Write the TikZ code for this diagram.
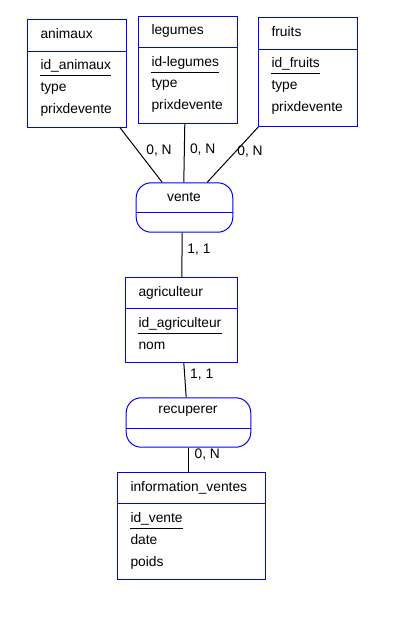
\documentclass[tikz,border=0pt]{standalone}
\usepackage{fontspec}
\setmainfont{Liberation Sans}
\begin{document}
\begin{tikzpicture}[x=1pt,y=-1pt,
  fnt/.style={font=\fontsize{13.8}{16}\selectfont},
  ent/.style={draw=blue, line width=1pt, anchor=north west, inner sep=0pt},
  rel/.style={draw=blue, line width=1pt, rounded corners=15pt, anchor=north west, inner sep=0pt},
  txt/.style={fnt, anchor=base west, inner sep=0pt},
  ctxt/.style={fnt, anchor=center, inner sep=0pt},
  card/.style={fnt, anchor=center, inner sep=0pt},
  div/.style={blue, line width=1pt},
  uline/.style={black, line width=1pt},
  link/.style={black, line width=1pt}]
\useasboundingbox (0,0) rectangle (411,621);

% ---------- animaux ----------
\node[ent, minimum width=98.7pt, minimum height=107.4pt] (animaux) at (27.3,19.3) {};
\draw[div] ([yshift=-32.4pt]animaux.north west) -- ([yshift=-32.4pt]animaux.north east);
\node[txt] (animauxT) at (40.3,38.3) {animaux};
\node[txt] (animauxA) at (40.3,69.8) {id\_animaux};
\node[txt] (animauxB) at (40.3,91.5) {type};
\node[txt] (animauxC) at (40.3,113.2) {prixdevente};
\draw[uline] ([yshift=-6pt]animauxA.base west) -- ([yshift=-6pt]animauxA.base east);

% ---------- legumes ----------
\node[ent, minimum width=99pt, minimum height=107pt] (legumes) at (138.3,15.7) {};
\draw[div] ([yshift=-31.6pt]legumes.north west) -- ([yshift=-31.6pt]legumes.north east);
\node[txt] (legumesT) at (151.3,34.7) {legumes};
\node[txt] (legumesA) at (151.3,66.2) {id-legumes};
\node[txt] (legumesB) at (151.3,87.9) {type};
\node[txt] (legumesC) at (151.3,109.6) {prixdevente};
\draw[uline] ([yshift=-6pt]legumesA.base west) -- ([yshift=-6pt]legumesA.base east);

% ---------- fruits ----------
\node[ent, minimum width=99pt, minimum height=108.7pt] (fruits) at (258.3,17.3) {};
\draw[div] ([yshift=-31.7pt]fruits.north west) -- ([yshift=-31.7pt]fruits.north east);
\node[txt] (fruitsT) at (271.3,36.3) {fruits};
\node[txt] (fruitsA) at (271.3,67.8) {id\_fruits};
\node[txt] (fruitsB) at (271.3,89.5) {type};
\node[txt] (fruitsC) at (271.3,111.2) {prixdevente};
\draw[uline] ([yshift=-6pt]fruitsA.base west) -- ([yshift=-6pt]fruitsA.base east);

% ---------- vente ----------
\node[rel, minimum width=96.6pt, minimum height=49.4pt] (vente) at (135.7,182.3) {};
\draw[div] ([yshift=-30.4pt]vente.north west) -- ([yshift=-30.4pt]vente.north east);
\node[ctxt] (venteT) at (184,196.7) {vente};

% ---------- agriculteur ----------
\node[ent, minimum width=112pt, minimum height=84.4pt] (agri) at (125.3,277.3) {};
\draw[div] ([yshift=-31pt]agri.north west) -- ([yshift=-31pt]agri.north east);
\node[txt] (agriT) at (138.3,296.3) {agriculteur};
\node[txt] (agriA) at (138.3,327.8) {id\_agriculteur};
\node[txt] (agriB) at (138.3,349.5) {nom};
\draw[uline] ([yshift=-6pt]agriA.base west) -- ([yshift=-6pt]agriA.base east);

% ---------- recuperer ----------
\node[rel, minimum width=124.6pt, minimum height=49.4pt] (recup) at (125.7,397.3) {};
\draw[div] ([yshift=-31pt]recup.north west) -- ([yshift=-31pt]recup.north east);
\node[ctxt] (recupT) at (188,411) {recuperer};

% ---------- information_ventes ----------
\node[ent, minimum width=148pt, minimum height=106.7pt] (info) at (117.3,472.3) {};
\draw[div] ([yshift=-31pt]info.north west) -- ([yshift=-31pt]info.north east);
\node[txt] (infoT) at (130.3,491.3) {information\_ventes};
\node[txt] (infoA) at (130.3,522.8) {id\_vente};
\node[txt] (infoB) at (130.3,544.5) {date};
\node[txt] (infoC) at (130.3,566.2) {poids};
\draw[uline] ([yshift=-6pt]infoA.base west) -- ([yshift=-6pt]infoA.base east);

% ---------- connectors ----------
\draw[link] ([xshift=-7pt]animaux.south east) -- ([xshift=-22.3pt]vente.north);
\draw[link] ([xshift=-3.5pt]legumes.south) -- ([xshift=-0.7pt]vente.north);
\draw[link] (fruits.south west) -- ([xshift=22.7pt]vente.north);
\draw[link] ([xshift=-2.3pt]vente.south) -- (agri.north);
\draw[link] ([xshift=2pt]agri.south) -- ([xshift=-2.3pt]recup.north);
\draw[link] ([xshift=-0.3pt]recup.south) -- ([xshift=-3.6pt]info.north);

% ---------- cardinalities ----------
\node[card] (c1) at (159,150.7) {0, N};
\node[card] (c2) at (202.7,150) {0, N};
\node[card] (c3) at (250,152) {0, N};
\node[card] (c4) at (199,249.3) {1, 1};
\node[card] (c5) at (201.7,375) {1, 1};
\node[card] (c6) at (207.3,455) {0, N};
\end{tikzpicture}
\end{document}
